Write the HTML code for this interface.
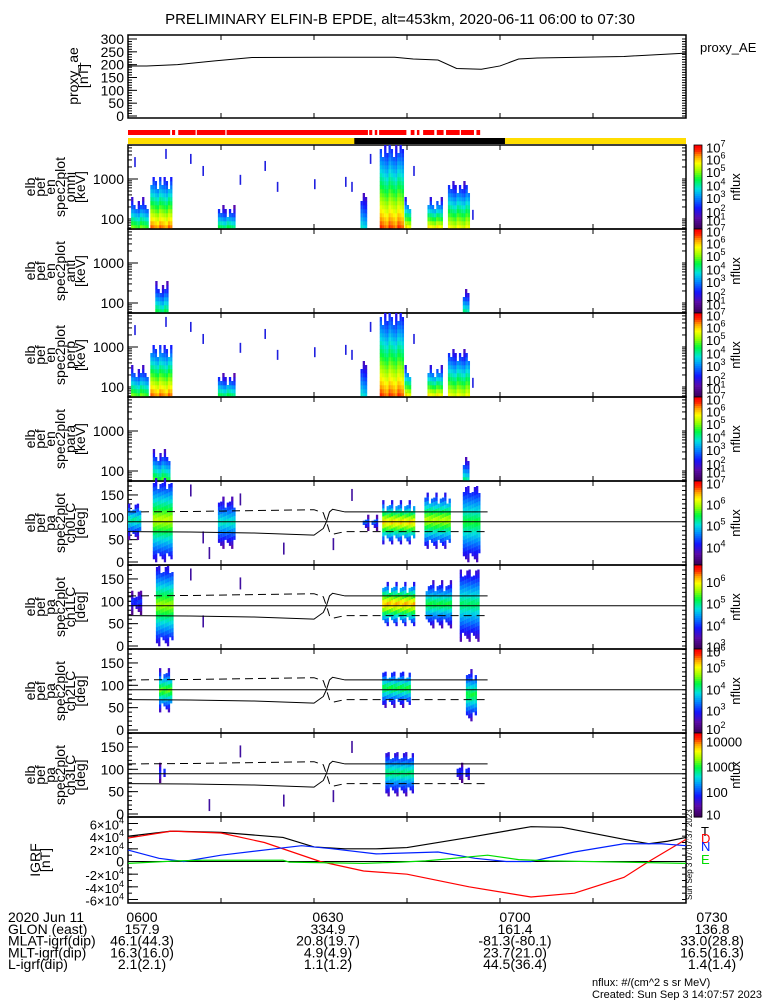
<!DOCTYPE html>
<html><head><meta charset="utf-8"><style>
html,body{margin:0;padding:0;background:#fff}
svg{display:block;font-family:"Liberation Sans",sans-serif}
</style></head><body>
<svg id="c" width="775" height="1000" viewBox="0 0 775 1000" xmlns="http://www.w3.org/2000/svg">
<text x="400" y="24" text-anchor="middle" font-size="15">PRELIMINARY ELFIN-B EPDE, alt=453km, 2020-06-11 06:00 to 07:30</text>
<g id="g"></g>
</svg>
<script>
// ---- data ----
const aeTimes = [0,3,8,14,20,32,43,46,50,53,57,60,63,66,80,90];
const aeValues = [195,195,200,215,228,229,229,222,218,185,182,195,222,226,232,245];
const redSegments = [[0,38.7],[38.9,39.4],[39.8,40.2],[40.5,44.9],[45.6,46.2],[46.6,47.0],[47.6,49.4],[49.8,50.9],[51.3,53.5],[53.7,55.8],[56.2,56.8]];
const redGapsEarly = [[6.8,7.1],[7.6,8.1],[10.9,11.1],[15.7,15.9]];
const yellowBlack = [36.5,60.8];
const omniBursts = [[0.5,3,56,300,0.68],[3.6,7,56,1100,0.92],[14.5,17,56,200,0.6],[37.5,38.3,56,500,0.5],[40.6,44.3,56,7000,0.95],[44.6,45.4,56,300,0.82],[48.3,50.5,56,300,0.82],[51.6,54.8,56,800,0.8]];
const perpBursts = [[0.5,3,56,300,0.68],[3.6,7,56,1100,0.92],[14.5,17,56,200,0.6],[37.5,38.3,56,500,0.5],[40.6,44.3,56,7000,0.95],[44.6,45.4,56,300,0.82],[48.3,50.5,56,300,0.82],[51.6,54.8,56,800,0.8]];
const antBursts = [[4.4,6.4,56,300,0.6],[54,55,56,200,0.55]];
const paraBursts = [[4,6.5,56,300,0.65],[54,55,56,200,0.55]];
const enSpecks = [[1,2500],[6,4000],[10,3000],[12,1500],[18,900],[22,2000],[24,600],[30,700],[35,800],[36,600],[39,3000],[46,1500],[55.5,120]];
const ch0Bursts = [[0,2,50,130,0.55],[4,7,0,180,0.75],[14.5,17,30,140,0.52],[37.5,40,70,100,0.35],[41,46,40,130,0.85],[47.8,52,30,150,0.75],[54,56.5,0,170,0.62]];
const ch1Bursts = [[0.5,2,70,120,0.3],[4.5,7,0,175,0.72],[41,46,45,135,0.88],[48,52,40,140,0.62],[53.5,56.5,10,170,0.58]];
const ch2Bursts = [[5,7,40,130,0.68],[41,45.5,50,130,0.62],[54.5,56,20,130,0.62]];
const ch3Bursts = [[5,6,70,110,0.3],[41.5,46,40,135,0.58],[53,55,70,110,0.3]];
const paSpecks = [[10,160],[12,55],[18,140],[25,30],[33,40],[36,150],[13,20]];
const lcTimes = [0,10,20,30,31.5,32,32.5,33,35,45,58];
const lcSolid = [68,67,65,60,75,90,112,118,112,112,112];
const lcDashed = [112,113,115,117,110,90,68,62,68,68,68];
const tTimes = [0,7,15,25,30,35,40,45,55,65,70,80,84,87,90];
const tValues = [40000,48000,46000,38000,23000,20000,20000,22000,38000,55000,54000,35000,28000,32000,38000];
const dTimes = [0,7,15,22,31,38,45,55,65,72,80,84,90];
const dValues = [37000,48000,45000,30000,0,-15000,-20000,-40000,-56000,-50000,-25000,0,35000];
const nTimes = [0,5,9,15,28,33,40,50,56,61,65,72,80,86,90];
const nValues = [18000,5000,0,10000,25000,20000,12000,15000,5000,0,0,15000,28000,28000,25000];
const eTimes = [0,8,12,25,26,38,44,48,58,63,68,74,80,90];
const eValues = [-3000,1000,2000,2000,-1000,-3000,-1000,1000,10000,3000,1000,0,-1000,-3000];
const timeLabels = ["0600","0630","0700","0730"];
const glon = ["157.9","334.9","161.4","136.8"];
const mlat = ["46.1(44.3)","20.8(19.7)","-81.3(-80.1)","33.0(28.8)"];
const mlt = ["16.3(16.0)","4.9(4.9)","23.7(21.0)","16.5(16.3)"];
const lshell = ["2.1(2.1)","1.1(1.2)","44.5(36.4)","1.4(1.4)"];

// ---- drawing ----
const NS="http://www.w3.org/2000/svg", G=document.getElementById('g');
const X0=128,X1=686;
function xt(t){return X0+(X1-X0)*t/90;}
function el(tag,at,parent){const e=document.createElementNS(NS,tag);for(const k in at)e.setAttribute(k,at[k]);(parent||G).appendChild(e);return e;}
function txt(x,y,s,at,parent){const e=el('text',Object.assign({x:x,y:y,'font-size':14},at||{}),parent);e.textContent=s;return e;}
const stops=[[0,[60,0,90]],[0.13,[90,10,170]],[0.25,[20,20,255]],[0.38,[0,140,255]],[0.48,[0,225,225]],[0.6,[0,250,60]],[0.7,[150,255,0]],[0.8,[255,255,0]],[0.88,[255,160,0]],[0.95,[255,40,0]],[1,[255,0,0]]];
function cmap(v){v=Math.max(0,Math.min(1,v));for(let i=1;i<stops.length;i++){if(v<=stops[i][0]){const a=stops[i-1],b=stops[i],f=(v-a[0])/(b[0]-a[0]);return 'rgb('+a[1].map((c,j)=>Math.round(c+(b[1][j]-c)*f)).join(',')+')';}}return 'rgb(255,0,0)';}

function frame(top,bot,name){
  const g=el('g',{});
  
  
  el('rect',{x:X0,y:top,width:X1-X0,height:bot-top,fill:'none',stroke:'#000','stroke-width':1.5},g);
  for(let t=15;t<90;t+=15){el('line',{x1:xt(t),x2:xt(t),y1:bot,y2:bot-5,stroke:'#000'},g);el('line',{x1:xt(t),x2:xt(t),y1:top,y2:top+5,stroke:'#000'},g);}
  return g;
}
function yticks(g,ys,len){ys.forEach(y=>{el('line',{x1:X0,x2:X0+len,y1:y,y2:y,stroke:'#000'},g);el('line',{x1:X1,x2:X1-len,y1:y,y2:y,stroke:'#000'},g);});}
function ylabel(lines,cx,cy,name){
  const g=el('g',{});
  
  
  const n=lines.length;
  lines.forEach((s,i)=>{const x=cx-(n-1)*5+i*10;txt(x,cy,s,{transform:'rotate(-90 '+x+' '+cy+')','text-anchor':'middle','font-size':14,'dominant-baseline':'central'},g);});
}

// proxy_ae panel
(function(){
  const top=35,bot=118; const y=v=>116-(v/300)*77;
  const g=frame(top,bot,'proxy-ae');
  const minor=[];for(let v=0;v<=300;v+=10)minor.push(y(v));
  yticks(g,minor,4);
  for(let v=0;v<=300;v+=50){el('line',{x1:X0,x2:X0+9,y1:y(v),y2:y(v),stroke:'#000'},g);txt(124,y(v)+5,String(v),{'text-anchor':'end'},g);}
  const pts=aeTimes.map((t,i)=>xt(t)+','+y(aeValues[i])).join(' ');
  const pl=el('polyline',{points:pts,fill:'none',stroke:'#000','stroke-width':1});
  
  
  ylabel(['proxy_ae','[nT]'],78,76,'proxy-ae-axis-title');
  const l=txt(700,52,'proxy_AE',{'font-size':13});
  
  
})();

// status bars
(function(){
  const g=el('g',{});
  
  
  redSegments.forEach((s,i)=>{let a=s[0];
    const gaps=i===0?redGapsEarly:[];
    gaps.forEach(gp=>{el('rect',{x:xt(a),y:130,width:xt(gp[0])-xt(a),height:5,fill:'#ff0000'},g);a=gp[1];});
    el('rect',{x:xt(a),y:130,width:xt(s[1])-xt(a),height:5,fill:'#ff0000'},g);});
  el('rect',{x:X0,y:138,width:X1-X0,height:6,fill:'#ffdd00'},g);
  el('rect',{x:xt(yellowBlack[0]),y:138,width:xt(yellowBlack[1])-xt(yellowBlack[0]),height:6,fill:'#000'},g);
})();

// colorbar
function colorbar(top,bot,labels,name){
  const g=el('g',{});
  
  
  const h=bot-top,n=40;
  for(let i=0;i<n;i++){el('rect',{x:694,y:bot-(i+1)*h/n,width:8,height:h/n+0.6,fill:cmap(i/(n-1))},g);}
  el('rect',{x:694,y:top,width:8,height:h,fill:'none',stroke:'#000','stroke-width':0.8},g);
  labels.forEach(l=>{const yy=bot-(bot-top)*l[1];const t=txt(706,yy+5,l[0],{'font-size':13},g);if(l[2]){const s=el('tspan',{dy:-6,'font-size':9},t);s.textContent=l[2];}});
  const cy=(top+bot)/2;
  txt(740,cy,'nflux',{transform:'rotate(-90 740 '+cy+')','text-anchor':'middle','font-size':13},g);
}

// energy spectrogram panel
function enPanel(top,bot,bursts,label,name,withSpecks){
  const yE=E=>bot-10-(Math.log10(E)-2)*40;
  const g=frame(top,bot,name);
  const mg=el('g',{});
  
  
  bursts.forEach((b,bi)=>{
    const x0=xt(b[0]),x1=xt(b[1]);const yl=Math.min(bot,yE(b[2])),yh=Math.max(top,yE(b[3]));
    for(let x=x0,ci=0;x<x1;x+=2.2,ci++){
      const trim=((ci*7+bi*3)%5)*3;
      for(let y=yl;y>yh+trim;y-=4){
        const f=(yl-y)/(yl-yh);
        const v=b[4]*(1-f*0.75)-((ci*5)%4)*0.02;
        el('rect',{x:x,y:y-4,width:2.3,height:4.3,fill:cmap(v)},mg);
      }
    }
  });
  if(withSpecks){enSpecks.forEach(s=>{el('rect',{x:xt(s[0]),y:yE(s[1])-6,width:1.6,height:10,fill:'#2020e0'},mg);});}
  const ys=[];for(let e=60;e<=7000;){ys.push(yE(e));const d=Math.pow(10,Math.floor(Math.log10(e)));e+=d;}
  yticks(g,ys,4);
  [100,1000].forEach(e=>{el('line',{x1:X0,x2:X0+10,y1:yE(e),y2:yE(e),stroke:'#000'},g);txt(124,yE(e)+5,String(e),{'text-anchor':'end'},g);});
  ylabel(['elb','pef','en','spec2plot',label,'[keV]'],55,(top+bot)/2,name+'-axis-title');
}

// pitch angle panel
function paPanel(top,bot,bursts,label,name,specks){
  const yP=p=>bot-3-p*0.447;
  const g=frame(top,bot,name);
  const mg=el('g',{});
  
  
  bursts.forEach((b,bi)=>{
    const x0=xt(b[0]),x1=xt(b[1]);const yl=yP(b[2]),yh=yP(b[3]);
    for(let x=x0,ci=0;x<x1;x+=2.2,ci++){
      const trim=((ci*3+bi)%4)*3;
      for(let y=yl-trim;y>yh+trim;y-=4){
        const p=(bot-3-y)/0.447;const half=(b[3]-b[2])/2, mid=(b[3]+b[2])/2;
        const v=b[4]*(1-Math.abs(p-mid)/half*0.75);
        el('rect',{x:x,y:y-4,width:2.3,height:4.3,fill:cmap(v)},mg);
      }
    }
  });
  if(specks){specks.forEach(s=>{el('rect',{x:xt(s[0]),y:yP(s[1])-6,width:1.6,height:12,fill:'#4010a0'},mg);});}
  const solid=el('polyline',{points:lcTimes.map((t,i)=>xt(t)+','+yP(lcSolid[i])).join(' '),fill:'none',stroke:'#000'});
  
  
  const dash=el('polyline',{points:lcTimes.map((t,i)=>xt(t)+','+yP(lcDashed[i])).join(' '),fill:'none',stroke:'#000','stroke-dasharray':'8,5'});
  
  
  el('line',{x1:X0,x2:X1,y1:yP(90),y2:yP(90),stroke:'#000'});
  const ys=[];for(let p=0;p<=180;p+=10)ys.push(yP(p));
  yticks(g,ys,4);
  for(let p=0;p<=150;p+=50){el('line',{x1:X0,x2:X0+10,y1:yP(p),y2:yP(p),stroke:'#000'},g);txt(124,yP(p)+5,String(p),{'text-anchor':'end'},g);}
  ylabel(['elb','pef','pa','spec2plot',label,'[deg]'],55,(top+bot)/2,name+'-axis-title');
}

const P=[145,229,313,397,481,565,649,733,817];
const L7=[['10',0.97,'7'],['10',0.83,'6'],['10',0.68,'5'],['10',0.52,'4'],['10',0.37,'3'],['10',0.2,'2'],['10',0.1,'1']];
enPanel(P[0],P[1],omniBursts,'omni','omni-energy',true); colorbar(P[0],P[1],L7,'omni');
enPanel(P[1],P[2],antBursts,'anti','anti-energy',false); colorbar(P[1],P[2],L7,'anti');
enPanel(P[2],P[3],perpBursts,'perp','perp-energy',true); colorbar(P[2],P[3],L7,'perp');
enPanel(P[3],P[4],paraBursts,'para','para-energy',false); colorbar(P[3],P[4],L7,'para');
paPanel(P[4],P[5],ch0Bursts,'ch0LC','ch0lc-pitch',paSpecks); colorbar(P[4],P[5],[['10',0.97,'7'],['10',0.72,'6'],['10',0.47,'5'],['10',0.21,'4']],'ch0lc');
paPanel(P[5],P[6],ch1Bursts,'ch1LC','ch1lc-pitch',paSpecks.slice(0,3)); colorbar(P[5],P[6],[['10',0.8,'6'],['10',0.54,'5'],['10',0.28,'4'],['10',0.03,'3']],'ch1lc');
paPanel(P[6],P[7],ch2Bursts,'ch2LC','ch2lc-pitch',null); colorbar(P[6],P[7],[['10',0.97,'6'],['10',0.78,'5'],['10',0.52,'4'],['10',0.27,'3'],['10',0.05,'2']],'ch2lc');
paPanel(P[7],P[8],ch3Bursts,'ch3LC','ch3lc-pitch',paSpecks.slice(2)); colorbar(P[7],P[8],[['10000',0.9],['1000',0.6],['100',0.3],['10',0.03]],'ch3lc');

// IGRF panel
(function(){
  const top=817,bot=903; const y=v=>861.5-v*38/60000;
  const g=frame(top,bot,'igrf');
  const ys=[];for(let v=-60000;v<=70000;v+=10000)ys.push(y(v));
  yticks(g,ys,4);
  el('line',{x1:X0,x2:X1,y1:y(0),y2:y(0),stroke:'#000'});
  [-60000,-40000,-20000,0,20000,40000,60000].forEach(v=>{
    el('line',{x1:X0,x2:X0+10,y1:y(v),y2:y(v),stroke:'#000'},g);
    if(v===0){txt(124,y(v)+5,'0',{'text-anchor':'end'},g);}
    else{const t=txt(124,y(v)+6,(v/10000)+'\u00d710',{'text-anchor':'end','font-size':13},g);const s=el('tspan',{dy:-6,'font-size':9},t);s.textContent='4';}
  });
  const series=[['T',tTimes,tValues,'#000'],['D',dTimes,dValues,'#ff0000'],['N',nTimes,nValues,'#0020ff'],['E',eTimes,eValues,'#00dd00']];
  series.forEach((s,k)=>{
    const pl=el('polyline',{points:s[1].map((t,i)=>xt(t)+','+y(s[2][i])).join(' '),fill:'none',stroke:s[3],'stroke-width':1.2});
    
    
    const lt=txt(701,[836,843,851,864][k],s[0],{fill:s[3],'font-size':13});
    
    
  });
  ylabel(['IGRF','[nT]'],40,860,'igrf-axis-title');
  txt(692,900,'Sun Sep  3 07:07:37 2023',{transform:'rotate(-90 692 900)','font-size':8});
})();

// bottom annotation table
(function(){
  const g=el('g',{});
  
  
  const rowsL=['2020 Jun 11','GLON (east)','MLAT-igrf(dip)','MLT-igrf(dip)','L-igrf(dip)'];
  const rows=[timeLabels,glon,mlat,mlt,lshell];
  const cx=[142,328,515,712];
  rowsL.forEach((s,r)=>{const yy=922+r*11.8;txt(8,yy,s,{'font-size':14},g);rows[r].forEach((v,c)=>txt(cx[c],yy,v,{'text-anchor':'middle','font-size':14},g));});
  txt(592,986,'nflux: #/(cm^2 s sr MeV)',{'font-size':11},g);
  txt(592,998,'Created: Sun Sep  3 14:07:57 2023',{'font-size':11},g);
})();
</script>
</body></html>
